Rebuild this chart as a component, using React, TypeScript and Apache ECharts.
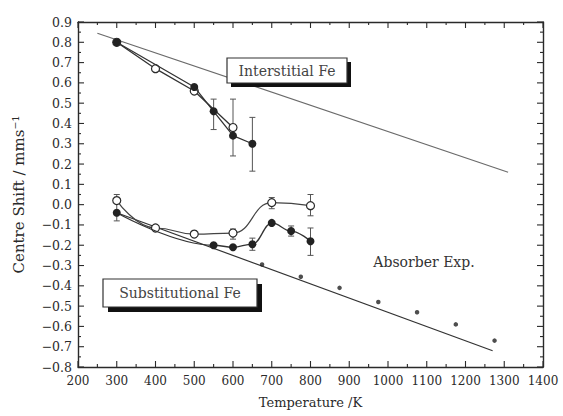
import React, { useEffect, useRef } from "react";
import * as echarts from "echarts";

// Interstitial Fe
const intOpenT = [300, 400, 500, 600];
const intOpenV = [0.8, 0.67, 0.56, 0.38];
const intFillT = [300, 500, 550, 600, 650];
const intFillV = [0.8, 0.58, 0.46, 0.34, 0.3];
const intFitT = [250, 1310];
const intFitV = [0.845, 0.16];

// Substitutional Fe
const subOpenT = [300, 400, 500, 600, 700, 800];
const subOpenV = [0.02, -0.115, -0.145, -0.14, 0.01, -0.005];
const subFillT = [300, 550, 600, 650, 700, 750, 800];
const subFillV = [-0.04, -0.2, -0.21, -0.195, -0.09, -0.13, -0.18];
const subFitT = [300, 1270];
const subFitV = [-0.04, -0.72];

// Absorber experiment
const absT = [675, 775, 875, 975, 1075, 1175, 1275];
const absV = [-0.295, -0.355, -0.41, -0.48, -0.53, -0.59, -0.67];

// Error bars
const errT = [550, 600, 650, 300, 600, 650, 700, 750, 800, 800];
const errLo = [0.37, 0.24, 0.165, -0.08, -0.17, -0.225, -0.02, -0.155, -0.055, -0.25];
const errHi = [0.52, 0.52, 0.43, 0.05, -0.12, -0.165, 0.035, -0.105, 0.05, -0.115];

// Axis ranges
const X_MIN = 200;
const X_MAX = 1400;
const X_STEP = 100;
const Y_MIN = -0.8;
const Y_MAX = 0.9;
const Y_STEP = 0.1;

const FONT = "DejaVu Serif";
const INK = "#2a2a2a";

const zip = (a: number[], b: number[]) => a.map((v, i) => [v, b[i]]);

const fmtY = (v: number) => {
  if (Math.abs(v) < 1e-9) return "0.0";
  const s = v.toFixed(1);
  return s.replace("-", "\u2212");
};

export default function App() {
  const ref = useRef<HTMLDivElement>(null);
  useEffect(() => {
    if (!ref.current) return;
    const chart = echarts.init(ref.current, undefined, { renderer: "svg" });
    const openStyle = { color: "#fff", borderColor: INK, borderWidth: 1.2 };
    const axisBase = {
      type: "value",
      splitLine: { show: false },
      axisLine: { show: true, onZero: false, lineStyle: { color: INK, width: 1.4 } },
      axisTick: { show: false },
      minorTick: { show: false },
    };
    chart.setOption({
      animation: false,
      grid: { left: 78, right: 20, top: 22, bottom: 49 },
      xAxis: [
        {
          ...axisBase,
          position: "bottom",
          min: X_MIN,
          max: X_MAX,
          interval: X_STEP,
          axisLabel: { fontFamily: FONT, fontSize: 12, color: INK, margin: 8, formatter: (v: number) => String(v) },
          name: "Temperature /K",
          nameLocation: "middle",
          nameGap: 29,
          nameTextStyle: { fontFamily: FONT, fontSize: 13, color: INK },
        },
        {
          ...axisBase,
          position: "top",
          min: X_MIN,
          max: X_MAX,
          interval: X_STEP,
          axisLabel: { show: false },
        },
      ],
      yAxis: [
        {
          ...axisBase,
          position: "left",
          min: Y_MIN,
          max: Y_MAX,
          interval: Y_STEP,
          axisLabel: { fontFamily: FONT, fontSize: 12.5, color: INK, margin: 6, formatter: fmtY },
          name: "Centre Shift / mms\u207B\u00B9",
          nameLocation: "middle",
          nameRotate: 90,
          nameGap: 52,
          nameTextStyle: { fontFamily: FONT, fontSize: 15, color: INK },
        },
        {
          ...axisBase,
          position: "right",
          min: Y_MIN,
          max: Y_MAX,
          interval: Y_STEP,
          axisLabel: { show: false },
        },
      ],
      series: [
        {
          // inward ticks on all four sides of the frame
          type: "custom",
          data: [[800, 0]],
          clip: false,
          silent: true,
          z: 0,
          renderItem: (params: any, api: any) => {
            const cs = params.coordSys;
            const st = { stroke: INK, lineWidth: 1.1 };
            const children: any[] = [];
            const nx = Math.round((X_MAX - X_MIN) / (X_STEP / 2));
            for (let i = 0; i <= nx; i++) {
              const t = X_MIN + (i * X_STEP) / 2;
              const len = i % 2 === 0 ? 6 : 3;
              const px = api.coord([t, 0])[0];
              const yb = cs.y + cs.height;
              children.push({ type: "line", shape: { x1: px, y1: yb, x2: px, y2: yb - len }, style: st });
              children.push({ type: "line", shape: { x1: px, y1: cs.y, x2: px, y2: cs.y + len }, style: st });
            }
            const ny = Math.round((Y_MAX - Y_MIN) / (Y_STEP / 2));
            for (let j = 0; j <= ny; j++) {
              const v = Y_MIN + (j * Y_STEP) / 2;
              const len = j % 2 === 0 ? 6 : 3;
              const py = api.coord([X_MIN, v])[1];
              const xr = cs.x + cs.width;
              children.push({ type: "line", shape: { x1: cs.x, y1: py, x2: cs.x + len, y2: py }, style: st });
              children.push({ type: "line", shape: { x1: xr, y1: py, x2: xr - len, y2: py }, style: st });
            }
            return { type: "group", children };
          },
        },
        {
          type: "line",
          data: zip(intFitT, intFitV),
          symbol: "none",
          lineStyle: { color: "#6a6a6a", width: 1.1 },
          z: 1,
        },
        {
          type: "line",
          data: zip(subFitT, subFitV),
          symbol: "none",
          lineStyle: { color: "#333", width: 1.2 },
          z: 1,
        },
        {
          type: "custom",
          data: errT.map((t, i) => [t, errLo[i], errHi[i]]),
          z: 2,
          renderItem: (params: any, api: any) => {
            const x = api.value(0);
            const p1 = api.coord([x, api.value(1)]);
            const p2 = api.coord([x, api.value(2)]);
            const st = { stroke: "#555", lineWidth: 1 };
            return {
              type: "group",
              children: [
                { type: "line", shape: { x1: p1[0], y1: p1[1], x2: p2[0], y2: p2[1] }, style: st },
                { type: "line", shape: { x1: p1[0] - 3, y1: p1[1], x2: p1[0] + 3, y2: p1[1] }, style: st },
                { type: "line", shape: { x1: p2[0] - 3, y1: p2[1], x2: p2[0] + 3, y2: p2[1] }, style: st },
              ],
            };
          },
        },
        {
          type: "line",
          data: zip(intOpenT, intOpenV),
          symbol: "circle",
          symbolSize: 8,
          itemStyle: openStyle,
          lineStyle: { color: "#333", width: 1.3 },
          z: 3,
        },
        {
          type: "line",
          data: zip(intFillT, intFillV),
          symbol: "circle",
          symbolSize: 8,
          itemStyle: { color: "#222" },
          lineStyle: { color: "#333", width: 1.3 },
          z: 4,
        },
        {
          type: "line",
          data: zip(subOpenT, subOpenV),
          smooth: 0.5,
          smoothMonotone: "x",
          symbol: "circle",
          symbolSize: 8,
          itemStyle: openStyle,
          lineStyle: { color: "#444", width: 1.2 },
          z: 3,
        },
        {
          type: "line",
          data: zip(subFillT, subFillV),
          smooth: 0.4,
          smoothMonotone: "x",
          symbol: "circle",
          symbolSize: 8,
          itemStyle: { color: "#222" },
          lineStyle: { color: "#333", width: 1.3 },
          z: 4,
        },
        {
          type: "scatter",
          data: zip(absT, absV),
          symbol: "circle",
          symbolSize: 4.5,
          itemStyle: { color: "#222" },
          z: 3,
        },
      ],
      graphic: [
        { type: "rect", shape: { x: 231, y: 62, width: 120, height: 25 }, style: { fill: "#111" }, z: 10 },
        { type: "rect", shape: { x: 227, y: 58, width: 120, height: 25 }, style: { fill: "#fff", stroke: "#333", lineWidth: 1.2 }, z: 11 },
        {
          type: "text",
          x: 287,
          y: 71,
          style: { text: "Interstitial Fe", font: `14px "${FONT}"`, fill: "#444", align: "center", verticalAlign: "middle" },
          z: 12,
        },
        { type: "rect", shape: { x: 108, y: 284, width: 154, height: 28 }, style: { fill: "#111" }, z: 10 },
        { type: "rect", shape: { x: 103, y: 279, width: 154, height: 28 }, style: { fill: "#fff", stroke: "#333", lineWidth: 1.2 }, z: 11 },
        {
          type: "text",
          x: 180,
          y: 293,
          style: { text: "Substitutional Fe", font: `14px "${FONT}"`, fill: "#444", align: "center", verticalAlign: "middle" },
          z: 12,
        },
        {
          type: "text",
          x: 424,
          y: 262,
          style: { text: "Absorber Exp.", font: `14px "${FONT}"`, fill: "#333", align: "center", verticalAlign: "middle" },
          z: 12,
        },
      ],
    });
    return () => chart.dispose();
  }, []);
  return (
    <div
      ref={ref}
      style={{ position: "fixed", left: 0, top: 0, width: 563, height: 416, background: "#fff" }}
    />
  );
}
